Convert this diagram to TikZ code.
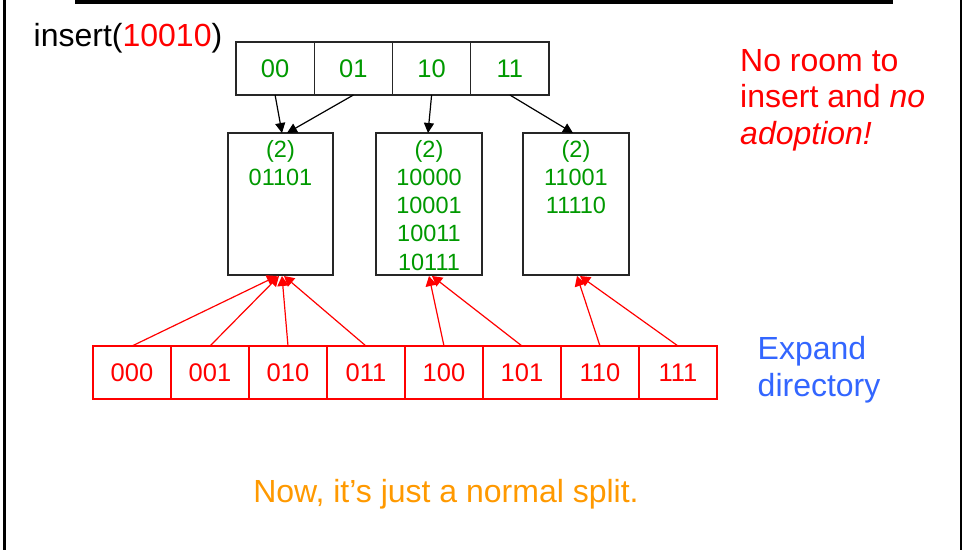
\documentclass[tikz,border=0pt]{standalone}
\usepackage{fontspec}
\setmainfont{Liberation Sans}
\usetikzlibrary{arrows.meta}

\definecolor{keygreen}{RGB}{0,153,0}
\definecolor{hotred}{RGB}{255,0,0}
\definecolor{noteblue}{RGB}{51,102,255}
\definecolor{noteorange}{RGB}{255,153,0}

\tikzset{
  cellbox/.style={draw=black!85, line width=1.3pt, rectangle, inner sep=0pt, outer sep=0pt,
                  minimum width=78.25pt, minimum height=53pt, text=keygreen,
                  font=\fontsize{25.5}{30}\selectfont},
  newcell/.style={draw=hotred, line width=1.3pt, rectangle, inner sep=0pt, outer sep=0pt,
                  minimum width=78pt, minimum height=53pt, text=hotred,
                  font=\fontsize{25.5}{30}\selectfont},
  bucketbox/.style={draw=black!85, line width=1.3pt, rectangle, inner sep=0pt, outer sep=0pt,
                  minimum height=142pt},
  keytext/.style={anchor=base, text=keygreen, inner sep=0pt, font=\fontsize{23.5}{28}\selectfont},
  bigtext/.style={anchor=base west, inner sep=0pt, font=\fontsize{32}{38}\selectfont},
  ptr/.style={draw=black, line width=1.2pt, -{Triangle[length=10pt,width=10pt]}},
  newptr/.style={draw=hotred, line width=1.2pt, -{Triangle[length=10pt,width=11pt]}},
}

\begin{document}
\begin{tikzpicture}[x=1pt,y=-1pt]
\useasboundingbox (0,0) rectangle (965,550);

% slide frame
\draw[line width=2.4pt] (4.5,0) -- (4.5,550);
\draw[line width=2.4pt] (961,0) -- (961,550);
\draw[line width=4.5pt] (75,1.5) -- (893,1.5);

% operation label
\node[bigtext] (op) at (33.5,46.5) {insert(\textcolor{hotred}{10010})};

% old directory
\node[cellbox] (d00) at (275.1,68.5) {00};
\node[cellbox] (d01) at (353.4,68.5) {01};
\node[cellbox] (d10) at (431.6,68.5) {10};
\node[cellbox] (d11) at (509.9,68.5) {11};

% buckets
\node[bucketbox, minimum width=105pt] (b1) at (280.5,204) {};
\node[bucketbox, minimum width=106pt] (b2) at (429,204) {};
\node[bucketbox, minimum width=106pt] (b3) at (576,204) {};

\node[keytext] (b1d) at (280.5,157) {(2)};
\node[keytext] (b1k1) at (280.5,185) {01101};

\node[keytext] (b2d) at (429,157) {(2)};
\node[keytext] (b2k1) at (429,185) {10000};
\node[keytext] (b2k2) at (429,213.3) {10001};
\node[keytext] (b2k3) at (429,241.6) {10011};
\node[keytext] (b2k4) at (429,270) {10111};

\node[keytext] (b3d) at (576,157) {(2)};
\node[keytext] (b3k1) at (576,185) {11001};
\node[keytext] (b3k2) at (576,213.3) {11110};

% entry points on the buckets
\coordinate (b1top1) at (282,133);
\coordinate (b1top2) at (287,133);
\coordinate (b2top) at (428,133);
\coordinate (b3top) at (573,133);
\coordinate (b1bot1) at (277,276);
\coordinate (b1bot2) at (279,276);
\coordinate (b1bot3) at (282,276);
\coordinate (b1bot4) at (284,276);
\coordinate (b2bot1) at (429,276);
\coordinate (b2bot2) at (432,276);
\coordinate (b3bot1) at (577,276);
\coordinate (b3bot2) at (580,276);

% old pointers
\draw[ptr] (d00.south) -- (b1top1);
\draw[ptr] (d01.south) -- (b1top2);
\draw[ptr] (d10.south) -- (b2top);
\draw[ptr] (d11.south) -- (b3top);

% expanded directory
\node[newcell] (e000) at (132,372.5) {000};
\node[newcell] (e001) at (210,372.5) {001};
\node[newcell] (e010) at (288,372.5) {010};
\node[newcell] (e011) at (366,372.5) {011};
\node[newcell] (e100) at (444,372.5) {100};
\node[newcell] (e101) at (522,372.5) {101};
\node[newcell] (e110) at (600,372.5) {110};
\node[newcell] (e111) at (678,372.5) {111};

% new pointers
\draw[newptr] (e000.north) -- (b1bot1);
\draw[newptr] (e001.north) -- (b1bot2);
\draw[newptr] (e010.north) -- (b1bot3);
\draw[newptr] (e011.north) -- (b1bot4);
\draw[newptr] (e100.north) -- (b2bot1);
\draw[newptr] (e101.north) -- (b2bot2);
\draw[newptr] (e110.north) -- (b3bot1);
\draw[newptr] (e111.north) -- (b3bot2);

% notes
\node[bigtext, text=hotred] (n1) at (740,71) {No room to};
\node[bigtext, text=hotred] (n2) at (740,107.5) {insert and \textit{no}};
\node[bigtext, text=hotred] (n3) at (740,144) {\textit{adoption!}};

\node[bigtext, text=noteblue] (x1) at (757.5,359.5) {Expand};
\node[bigtext, text=noteblue] (x2) at (757.5,396.5) {directory};

\node[bigtext, anchor=base, text=noteorange] (s1) at (446,502) {Now, it’s just a normal split.};
\end{tikzpicture}
\end{document}
